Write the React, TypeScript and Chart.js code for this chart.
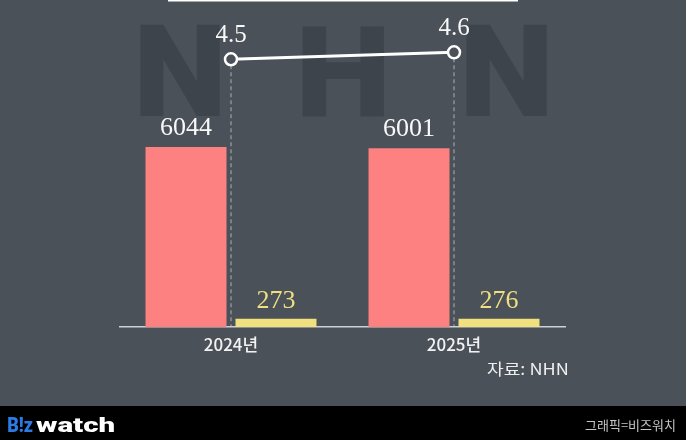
import React, { useEffect, useRef } from 'react';
import { Chart, registerables } from 'chart.js';

Chart.register(...registerables);

// ---- data ----
const categories = ['2024년', '2025년'];
const redValues = [6044, 6001];
const yellowValues = [273, 276];
const lineValues = [4.5, 4.6];
const watermarkLetters = ['N', 'H', 'N'];
const sourceText = '자료: NHN';
const creditText = '그래픽=비즈워치';
const logoBlue = 'B!z';
const logoWhite = 'watch';

// ---- styles ----
const W = 686;
const H = 440;
const BG = '#4a5159';
const WATERMARK = '#3e444b';
const RED = '#fd8181';
const YELLOW = '#f1e07e';
const YELLOW_TEXT = '#efdf80';
const SERIF = '"Liberation Serif", "DejaVu Serif", serif';
const KR = '"Noto Sans CJK KR", "Noto Sans", sans-serif';

function fitText(ctx: CanvasRenderingContext2D, text: string, x0: number, x1: number, baseline: number, font: string, color: string) {
  ctx.save();
  ctx.font = font;
  ctx.fillStyle = color;
  ctx.textAlign = 'left';
  ctx.textBaseline = 'alphabetic';
  const m = ctx.measureText(text);
  const w = m.actualBoundingBoxLeft + m.actualBoundingBoxRight;
  const sx = (x1 - x0) / w;
  ctx.translate(x0, baseline);
  ctx.scale(sx, 1);
  ctx.fillText(text, m.actualBoundingBoxLeft, 0);
  ctx.restore();
}

function fitBox(ctx: CanvasRenderingContext2D, text: string, x0: number, y0: number, x1: number, y1: number, font: string, color: string) {
  ctx.save();
  ctx.font = font;
  ctx.fillStyle = color;
  ctx.textAlign = 'left';
  ctx.textBaseline = 'alphabetic';
  const m = ctx.measureText(text);
  const w = m.actualBoundingBoxLeft + m.actualBoundingBoxRight;
  const h = m.actualBoundingBoxAscent + m.actualBoundingBoxDescent;
  ctx.translate(x0, y0);
  ctx.scale((x1 - x0) / w, (y1 - y0) / h);
  ctx.fillText(text, m.actualBoundingBoxLeft, m.actualBoundingBoxAscent);
  ctx.restore();
}

const backgroundPlugin = {
  id: 'bgDeco',
  beforeDraw(chart: any) {
    const ctx = chart.ctx as CanvasRenderingContext2D;
    ctx.save();
    ctx.fillStyle = BG;
    ctx.fillRect(0, 0, W, H);
    ctx.fillStyle = '#ffffff';
    ctx.fillRect(168, 0, 350, 1.5);
    const boxes = [
      [140, 24, 220, 116],
      [302, 26, 384, 117],
      [466, 24, 547, 116],
    ];
    watermarkLetters.forEach((t, i) => {
      const b = boxes[i];
      fitBox(ctx, t, b[0], b[1], b[2], b[3], '900 120px Roboto, "DejaVu Sans", sans-serif', WATERMARK);
    });
    ctx.restore();
  },
};

const dropLinePlugin = {
  id: 'dropLines',
  beforeDatasetsDraw(chart: any) {
    const ctx = chart.ctx as CanvasRenderingContext2D;
    const meta = chart.getDatasetMeta(2);
    const bottom = chart.chartArea.bottom;
    ctx.save();
    ctx.strokeStyle = 'rgba(205,210,215,0.75)';
    ctx.lineWidth = 1;
    ctx.setLineDash([4, 3]);
    meta.data.forEach((pt: any) => {
      ctx.beginPath();
      ctx.moveTo(pt.x, pt.y + 6);
      ctx.lineTo(pt.x, bottom);
      ctx.stroke();
    });
    ctx.restore();
  },
};

const labelPlugin = {
  id: 'valueLabels',
  afterDatasetsDraw(chart: any) {
    const ctx = chart.ctx as CanvasRenderingContext2D;
    ctx.save();
    ctx.textAlign = 'center';
    ctx.textBaseline = 'alphabetic';
    ctx.font = `26px ${SERIF}`;
    chart.getDatasetMeta(0).data.forEach((el: any, i: number) => {
      ctx.fillStyle = '#f8f8f8';
      ctx.fillText(String(redValues[i]), el.x, el.y - 12);
    });
    chart.getDatasetMeta(1).data.forEach((el: any, i: number) => {
      ctx.fillStyle = YELLOW_TEXT;
      ctx.fillText(String(yellowValues[i]), el.x, el.y - 11);
    });
    ctx.font = `25px ${SERIF}`;
    chart.getDatasetMeta(2).data.forEach((el: any, i: number) => {
      ctx.fillStyle = '#f8f8f8';
      ctx.fillText(lineValues[i].toFixed(1), el.x, el.y - 17.5);
    });
    ctx.restore();
  },
};

const footerPlugin = {
  id: 'footer',
  afterDraw(chart: any) {
    const ctx = chart.ctx as CanvasRenderingContext2D;
    ctx.save();
    fitText(ctx, sourceText, 487, 567, 375, `16px ${KR}`, '#eeeeee');
    ctx.fillStyle = '#000000';
    ctx.fillRect(0, 406, W, H - 406);
    fitText(ctx, logoBlue, 8, 33, 432, `900 21px Roboto, "DejaVu Sans", sans-serif`, '#2b7be4');
    fitText(ctx, logoWhite, 36, 114, 432, `900 21px Roboto, "DejaVu Sans", sans-serif`, '#ffffff');
    fitText(ctx, creditText, 585, 675, 429.5, `13px ${KR}`, '#c4c4c4');
    ctx.restore();
  },
};

export default function App() {
  const ref = useRef<HTMLCanvasElement | null>(null);

  useEffect(() => {
    document.body.style.margin = '0';
    const canvas = ref.current;
    if (!canvas) return;
    const chart = new Chart(canvas, {
      type: 'bar',
      data: {
        labels: categories,
        datasets: [
          {
            type: 'bar',
            data: redValues,
            backgroundColor: RED,
            yAxisID: 'y',
            categoryPercentage: 0.807,
            barPercentage: 0.9,
            order: 2,
          },
          {
            type: 'bar',
            data: yellowValues,
            backgroundColor: YELLOW,
            yAxisID: 'y',
            categoryPercentage: 0.807,
            barPercentage: 0.9,
            order: 2,
          },
          {
            type: 'line',
            data: lineValues,
            yAxisID: 'y2',
            borderColor: '#ffffff',
            borderWidth: 3,
            pointRadius: 6,
            pointBorderWidth: 2.5,
            pointBorderColor: '#ffffff',
            pointBackgroundColor: BG,
            tension: 0,
            order: 0,
            clip: false,
          } as any,
        ],
      },
      options: {
        animation: false,
        responsive: false,
        devicePixelRatio: 1,
        events: [],
        layout: { padding: { left: 119.5, right: 120.5, top: 29.2, bottom: 0 } },
        plugins: {
          legend: { display: false },
          tooltip: { enabled: false },
          title: { display: false },
        },
        scales: {
          x: {
            grid: { display: false, drawTicks: false },
            border: { display: true, color: '#cdd1d6', width: 1.5 },
            ticks: {
              color: '#f2f2f2',
              font: { family: KR, size: 17, weight: '500' },
              padding: 7,
            },
            afterFit: (s: any) => {
              s.height = 113;
            },
          },
          y: { display: false, min: 0, max: 10000 },
          y2: { display: false, min: 0.67, max: 4.93 },
        },
      },
      plugins: [backgroundPlugin, dropLinePlugin, labelPlugin, footerPlugin],
    } as any);
    return () => chart.destroy();
  }, []);

  return (
    <div style={{ position: 'fixed', left: 0, top: 0, width: W, height: H }}>
      <canvas ref={ref} width={W} height={H} style={{ width: W, height: H, display: 'block' }} />
    </div>
  );
}
